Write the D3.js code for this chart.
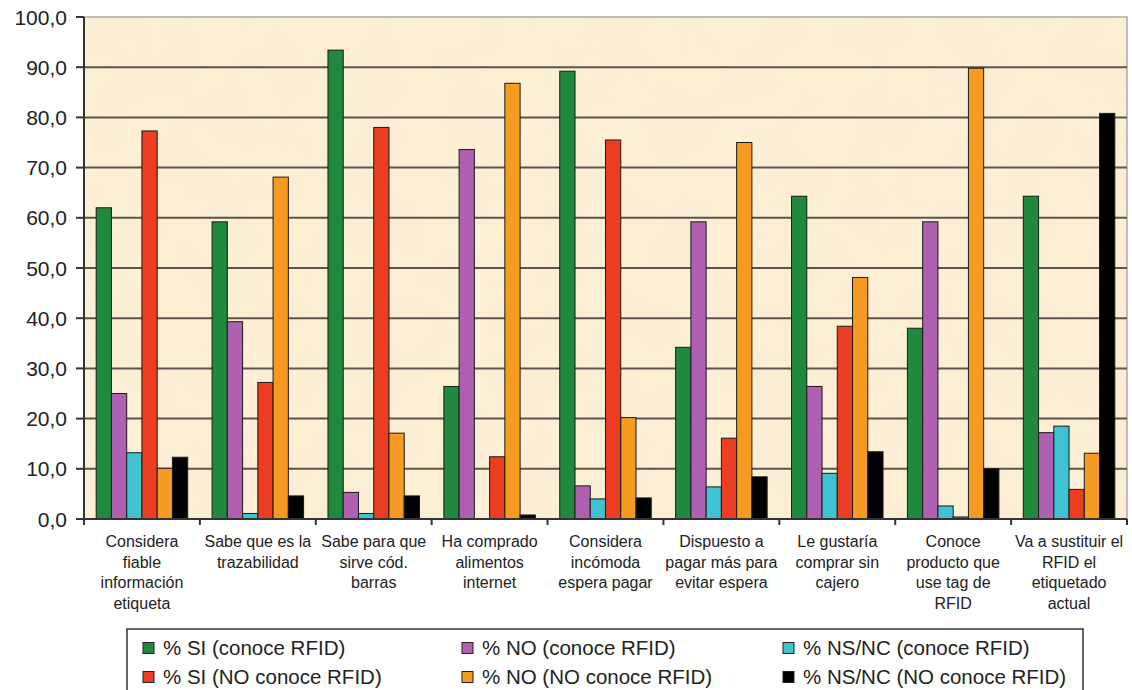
<!doctype html>
<html>
<head>
<meta charset="utf-8">
<script src="https://cdnjs.cloudflare.com/ajax/libs/d3/7.8.5/d3.min.js"></script>
<style>
    body { margin: 0; background: #fff; }
    svg { display: block; font-family: Arial, "Liberation Sans", sans-serif; }
    .ytick text { font-size: 21px; fill: #222; }
    .cat text { font-size: 16px; fill: #222; }
    .legend text { font-size: 20.5px; fill: #222; }
</style>
</head>
<body>
<script>
    // categories (label lines)
    var categories = [
        ["Considera", "fiable", "información", "etiqueta"],
        ["Sabe que es la", "trazabilidad"],
        ["Sabe para que", "sirve cód.", "barras"],
        ["Ha comprado", "alimentos", "internet"],
        ["Considera", "incómoda", "espera pagar"],
        ["Dispuesto a", "pagar más para", "evitar espera"],
        ["Le gustaría", "comprar sin", "cajero"],
        ["Conoce", "producto que", "use tag de", "RFID"],
        ["Va a sustituir el", "RFID el", "etiquetado", "actual"]
    ];
    var seriesNames = [
        "% SI (conoce RFID)",
        "% NO (conoce RFID)",
        "% NS/NC (conoce RFID)",
        "% SI (NO conoce RFID)",
        "% NO (NO conoce RFID)",
        "% NS/NC (NO conoce RFID)"
    ];
    var siConoce     = [62.0, 59.2, 93.4, 26.4, 89.2, 34.2, 64.3, 38.0, 64.3];
    var noConoce     = [25.0, 39.3, 5.3, 73.6, 6.6, 59.2, 26.4, 59.2, 17.2];
    var nsncConoce   = [13.2, 1.1, 1.1, 0.0, 4.0, 6.4, 9.1, 2.6, 18.5];
    var siNoConoce   = [77.3, 27.2, 78.0, 12.4, 75.5, 16.1, 38.4, 0.4, 5.9];
    var noNoConoce   = [10.1, 68.1, 17.1, 86.8, 20.2, 75.0, 48.1, 89.8, 13.1];
    var nsncNoConoce = [12.3, 4.6, 4.6, 0.8, 4.2, 8.4, 13.4, 10.0, 80.8];
    var yTicks = [0, 10, 20, 30, 40, 50, 60, 70, 80, 90, 100];

    var seriesValues = [siConoce, noConoce, nsncConoce, siNoConoce, noNoConoce, nsncNoConoce];
    var colors = ["#1f8a3d", "#b060b0", "#3fc2d2", "#ea3d22", "#f59b22", "#000000"];

    var width = 1132, height = 690;
    var plot = { left: 84, right: 1127, top: 17, bottom: 519 };

    var svg = d3.select("body").append("svg")
        .attr("width", width)
        .attr("height", height);

    // faint mottled paper texture for the plot area
    var filt = svg.append("defs").append("filter")
        .attr("id", "paper")
        .attr("x", 0).attr("y", 0).attr("width", 1).attr("height", 1);
    filt.append("feTurbulence")
        .attr("type", "fractalNoise")
        .attr("baseFrequency", 0.02)
        .attr("numOctaves", 3)
        .attr("seed", 4)
        .attr("result", "noise");
    filt.append("feColorMatrix")
        .attr("in", "noise")
        .attr("type", "matrix")
        .attr("values", "0 0 0 0 0.93  0 0 0 0 0.84  0 0 0 0 0.68  0 0 0 0.35 -0.08")
        .attr("result", "tint");
    filt.append("feComposite")
        .attr("in", "tint")
        .attr("in2", "SourceGraphic")
        .attr("operator", "over");

    var x0 = d3.scaleBand()
        .domain(d3.range(categories.length))
        .range([plot.left, plot.right])
        .padding(0);

    var x1 = d3.scaleBand()
        .domain(d3.range(seriesNames.length))
        .range([0, x0.bandwidth()])
        .paddingInner(0)
        .paddingOuter(0.8);

    var y = d3.scaleLinear()
        .domain([0, 100])
        .range([plot.bottom, plot.top]);

    // plot background
    svg.append("rect")
        .attr("x", plot.left)
        .attr("y", plot.top)
        .attr("width", plot.right - plot.left)
        .attr("height", plot.bottom - plot.top)
        .attr("fill", "#fcefd4")
        .attr("filter", "url(#paper)");
    svg.append("rect")
        .attr("x", plot.left)
        .attr("y", plot.top)
        .attr("width", plot.right - plot.left)
        .attr("height", plot.bottom - plot.top)
        .attr("fill", "none")
        .attr("stroke", "#aaa")
        .attr("stroke-width", 1.5);

    // gridlines
    svg.append("g")
        .selectAll("line")
        .data(yTicks.filter(function(d) { return d > 0 && d < 100; }))
        .enter().append("line")
        .attr("x1", plot.left)
        .attr("x2", plot.right)
        .attr("y1", function(d) { return y(d); })
        .attr("y2", function(d) { return y(d); })
        .attr("stroke", "#5b544c")
        .attr("stroke-width", 2);

    // bars
    var groups = svg.append("g")
        .selectAll("g")
        .data(categories)
        .enter().append("g")
        .attr("transform", function(d, i) { return "translate(" + x0(i) + ",0)"; });

    groups.selectAll("rect")
        .data(function(d, i) {
            return seriesValues.map(function(s, k) { return { k: k, v: s[i] }; });
        })
        .enter().append("rect")
        .filter(function(d) { return d.v > 0; })
        .attr("x", function(d) { return x1(d.k); })
        .attr("width", x1.bandwidth())
        .attr("y", function(d) { return y(d.v); })
        .attr("height", function(d) { return y(0) - y(d.v); })
        .attr("fill", function(d) { return colors[d.k]; })
        .attr("stroke", "#1a1a1a")
        .attr("stroke-width", 1);

    // y axis
    svg.append("line")
        .attr("x1", plot.left).attr("x2", plot.left)
        .attr("y1", plot.top).attr("y2", plot.bottom)
        .attr("stroke", "#333").attr("stroke-width", 2);

    var yt = svg.append("g").attr("class", "ytick")
        .selectAll("g")
        .data(yTicks)
        .enter().append("g")
        .attr("transform", function(d) { return "translate(0," + y(d) + ")"; });
    yt.append("line")
        .attr("x1", plot.left - 8).attr("x2", plot.left)
        .attr("stroke", "#333").attr("stroke-width", 2);
    yt.append("text")
        .attr("x", 67)
        .attr("dy", "0.36em")
        .attr("text-anchor", "end")
        .text(function(d) { return d3.format(".1f")(d).replace(".", ","); });

    // x axis
    svg.append("line")
        .attr("x1", plot.left).attr("x2", plot.right)
        .attr("y1", plot.bottom).attr("y2", plot.bottom)
        .attr("stroke", "#333").attr("stroke-width", 2);

    svg.append("g")
        .selectAll("line")
        .data(d3.range(categories.length + 1))
        .enter().append("line")
        .attr("x1", function(d) { return plot.left + d * x0.step(); })
        .attr("x2", function(d) { return plot.left + d * x0.step(); })
        .attr("y1", plot.bottom)
        .attr("y2", plot.bottom + 6)
        .attr("stroke", "#333").attr("stroke-width", 2);

    var cat = svg.append("g").attr("class", "cat")
        .selectAll("text")
        .data(categories)
        .enter().append("text")
        .attr("text-anchor", "middle")
        .attr("transform", function(d, i) { return "translate(" + (x0(i) + x0.bandwidth() / 2) + ",547)"; });
    cat.selectAll("tspan")
        .data(function(d) { return d; })
        .enter().append("tspan")
        .attr("x", 0)
        .attr("y", function(d, i) { return i * 20.7; })
        .text(function(d) { return d; });

    // legend
    var legend = svg.append("g").attr("class", "legend");
    legend.append("rect")
        .attr("x", 127).attr("y", 629)
        .attr("width", 956).attr("height", 80)
        .attr("fill", "#fff")
        .attr("stroke", "#333").attr("stroke-width", 1.5);

    var colX = [143, 462, 783], rowY = [648, 677];
    var li = legend.selectAll("g.item")
        .data(seriesNames)
        .enter().append("g")
        .attr("class", "item")
        .attr("transform", function(d, i) { return "translate(" + colX[i % 3] + "," + rowY[Math.floor(i / 3)] + ")"; });
    li.append("rect")
        .attr("x", 0).attr("y", -5.5)
        .attr("width", 11).attr("height", 11)
        .attr("fill", function(d, i) { return colors[i]; })
        .attr("stroke", "#222").attr("stroke-width", 1);
    li.append("text")
        .attr("x", 20)
        .attr("dy", "0.36em")
        .text(function(d) { return d; });
</script>
</body>
</html>
